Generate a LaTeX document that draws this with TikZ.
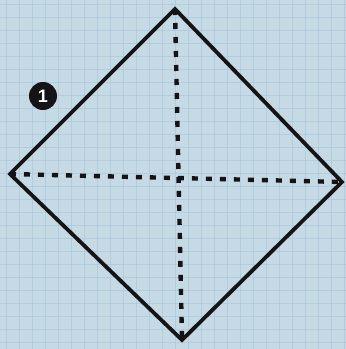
\documentclass[tikz,border=0pt]{standalone}
\usepackage{fontspec}
\setsansfont{Liberation Sans}
\definecolor{paper}{RGB}{198,218,230}
\definecolor{gridc}{RGB}{172,200,220}
\definecolor{ink}{RGB}{20,20,22}
\tikzset{
  edge/.style={draw=ink, line width=3.8pt, line join=miter},
  fold/.style={draw=ink, line width=4.4pt, dash pattern=on 6pt off 8pt},
  badge/.style={circle, fill=ink, text=white, inner sep=0pt, minimum size=28pt, font=\sffamily\bfseries\fontsize{18}{18}\selectfont}
}
\begin{document}
\begin{tikzpicture}[x=1pt,y=-1pt]
\fill[paper] (0,0) rectangle (346,349);
\useasboundingbox (0,0) rectangle (346,349);
\foreach \i in {0,...,27}{
  \draw[gridc, line width=1pt, opacity=0.7] ({6+\i*13},0) -- ({6+\i*13},349);
  \draw[gridc, line width=1pt, opacity=0.7] (0,{4+\i*13}) -- (346,{4+\i*13});
}
\coordinate (T) at (175,9);
\coordinate (L) at (10,174);
\coordinate (R) at (342,182);
\coordinate (B) at (182,340);
\draw[fold] (T) -- (B);
\draw[fold] (L) -- (R);
\draw[edge] (T) -- (R) -- (B) -- (L) -- cycle;
\node[badge] (n1) at (43,96) {1};
\end{tikzpicture}
\end{document}
